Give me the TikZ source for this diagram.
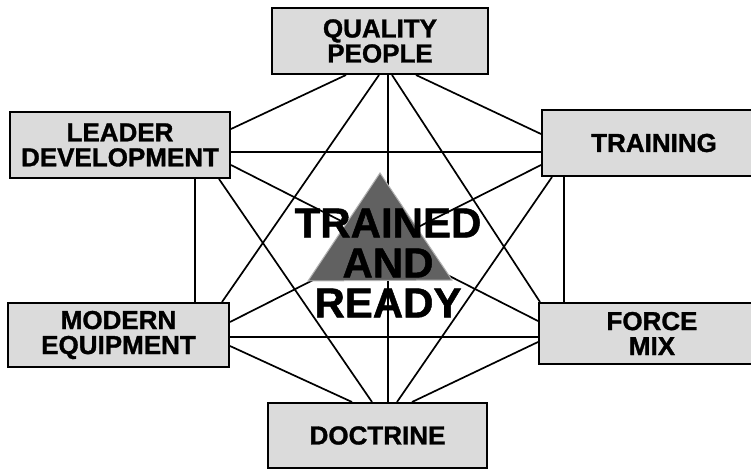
\documentclass[tikz,border=0pt]{standalone}
\usepackage{fontspec}
\setmainfont{Liberation Sans}[BoldFeatures={FakeBold=1.2}]
\usetikzlibrary{calc}
\tikzset{
  boxnode/.style={draw=black, line width=2pt, fill=black!14, inner sep=0pt,
    align=center, font=\fontsize{26}{25}\selectfont\bfseries},
  link/.style={draw=black, line width=1.7pt},
  centertext/.style={align=center, inner sep=0pt, font=\fontsize{42}{40}\selectfont\bfseries}
}
\begin{document}
\begin{tikzpicture}[x=1pt,y=-1pt]
\useasboundingbox (0,0) rectangle (751,470);
\clip (0,0) rectangle (751,470);
\fill[white] (0,0) rectangle (751,470);
% boxes
\node[boxnode, minimum width=216pt, minimum height=66pt] (qp) at (380,41) {QUALITY\\PEOPLE};
\node[boxnode, minimum width=220pt, minimum height=66pt] (ld) at (120,145) {LEADER\\DEVELOPMENT};
\node[boxnode, minimum width=224pt, minimum height=66pt] (tr) at (654,143) {TRAINING};
\node[boxnode, minimum width=221pt, minimum height=64pt] (me) at (118.5,335) {MODERN\\EQUIPMENT};
\node[boxnode, minimum width=226pt, minimum height=61pt] (fm) at (652,333.5) {FORCE\\MIX};
\node[boxnode, minimum width=219pt, minimum height=65pt] (doc) at (377.5,435.5) {DOCTRINE};
% connectors
\draw[link] ($(qp.south west)+(75,0)$) -- ($(ld.north east)+(0,18)$);
\draw[link] ($(qp.south west)+(145,0)$) -- ($(tr.north west)+(0,25)$);
\draw[link] ($(qp.south west)+(108,0)$) -- ($(me.north west)+(215,0)$);
\draw[link] ($(qp.south west)+(121,0)$) -- ($(fm.north west)+(2,0)$);
\draw[link] ($(qp.south west)+(117,0)$) -- ($(doc.north west)+(121,0)$);
\draw[link] ($(ld.north east)+(0,41)$) -- ($(tr.north west)+(0,43)$);
\draw[link] ($(ld.north east)+(0,54)$) -- ($(fm.north west)+(0,19)$);
\draw[link] ($(ld.south west)+(186,0)$) -- ($(me.north west)+(188,0)$);
\draw[link] ($(ld.south west)+(210,0)$) -- ($(doc.north west)+(105,0)$);
\draw[link] ($(tr.north west)+(0,56)$) -- ($(me.north east)+(0,20)$);
\draw[link] ($(tr.south west)+(23,0)$) -- ($(fm.north west)+(26,0)$);
\draw[link] ($(tr.south west)+(11,0)$) -- ($(doc.north west)+(130,0)$);
\draw[link] ($(me.north east)+(0,35)$) -- ($(fm.north west)+(0,35)$);
\draw[link] ($(me.north east)+(0,44)$) -- ($(doc.north west)+(85,0)$);
\draw[link] ($(fm.north west)+(0,40)$) -- ($(doc.north west)+(145,0)$);
% central triangle
\coordinate (apex) at (380,173);
\coordinate (bl) at (308,281);
\coordinate (br) at (452,280);
\filldraw[fill=black!62, draw=black!30, line width=1pt] (apex) -- (bl) -- (br) -- cycle;
\node[centertext] (tar) at (388,263) {TRAINED\\AND\\READY};
\end{tikzpicture}
\end{document}
